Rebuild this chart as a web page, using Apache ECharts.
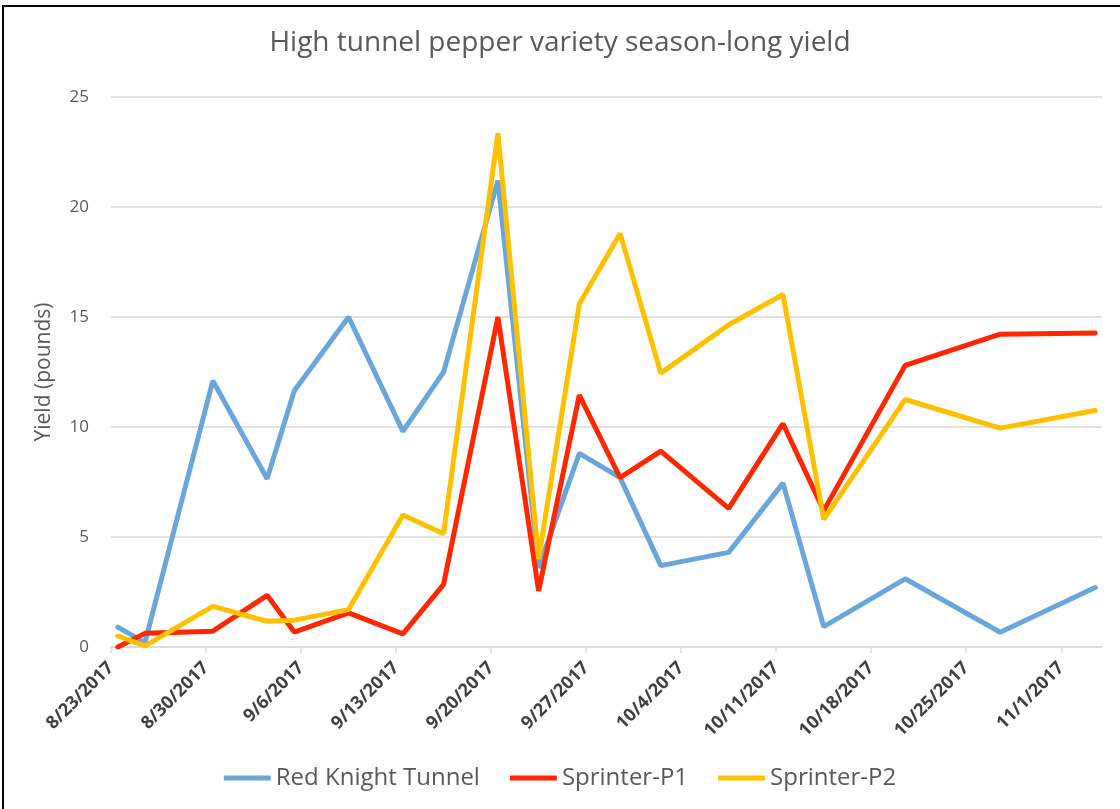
<!DOCTYPE html>
<html>
<head>
<meta charset="utf-8">
<title>High tunnel pepper variety season-long yield</title>
<script src="https://cdn.jsdelivr.net/npm/echarts@6/dist/echarts.min.js"></script>
<style>
  html, body { margin: 0; padding: 0; background: #fff; }
  #chart { width: 1120px; height: 809px; }
</style>
</head>
<body>
<div id="chart"></div>
<script>
// harvest dates
var dates = [
  '2017-08-23', '2017-08-25', '2017-08-30', '2017-09-03', '2017-09-05',
  '2017-09-09', '2017-09-13', '2017-09-16', '2017-09-20', '2017-09-23',
  '2017-09-26', '2017-09-29', '2017-10-02', '2017-10-07', '2017-10-11',
  '2017-10-14', '2017-10-20', '2017-10-27', '2017-11-03'
];
// yield in pounds
var redKnight = [0.9, 0.2, 12.1, 7.65, 11.65, 15.0, 9.8, 12.5, 21.2, 3.6, 8.8, 7.7, 3.7, 4.3, 7.45, 0.93, 3.1, 0.67, 2.7];
var sprinterP1 = [0.0, 0.62, 0.72, 2.35, 0.68, 1.55, 0.6, 2.85, 15.0, 2.55, 11.45, 7.7, 8.9, 6.3, 10.15, 6.2, 12.8, 14.22, 14.27];
var sprinterP2 = [0.5, 0.05, 1.85, 1.17, 1.22, 1.7, 6.0, 5.15, 23.35, 4.0, 15.6, 18.8, 12.45, 14.65, 16.02, 5.8, 11.25, 9.95, 10.75];
// x axis tick labels
var tickLabels = [
  '8/23/2017', '8/30/2017', '9/6/2017', '9/13/2017', '9/20/2017', '9/27/2017',
  '10/4/2017', '10/11/2017', '10/18/2017', '10/25/2017', '11/1/2017'
];
var yTicks = [0, 5, 10, 15, 20, 25];

var DAY = 86400000;
var startMs = Date.UTC(2017, 7, 23);

// day number since first tick, points sit in the middle of their day
function dayOf(iso) {
  return (Date.parse(iso) - startMs) / DAY + 0.5;
}
function tickDay(label) {
  var p = label.split('/');
  return (Date.UTC(+p[2], +p[0] - 1, +p[1]) - startMs) / DAY;
}
function pairs(values) {
  return values.map(function (v, i) {
    return [dayOf(dates[i]), v];
  });
}

var tickDays = tickLabels.map(tickDay);
var labelByDay = {};
tickDays.forEach(function (d, i) { labelByDay[d] = tickLabels[i]; });

var grey = '#595959';
var chart = echarts.init(document.getElementById('chart'));

chart.setOption({
  backgroundColor: '#ffffff',
  animation: false,
  title: {
    text: 'High tunnel pepper variety season-long yield',
    left: 'center',
    top: 24,
    textStyle: {
      fontFamily: 'Open Sans',
      fontSize: 28,
      fontWeight: 'normal',
      color: grey
    }
  },
  legend: {
    left: 'center',
    top: 761,
    icon: 'rect',
    itemWidth: 47,
    itemHeight: 5,
    itemGap: 30,
    textStyle: {
      fontFamily: 'Open Sans',
      fontSize: 24,
      color: grey
    }
  },
  grid: {
    left: 111,
    right: 18,
    top: 97,
    bottom: 162,
    containLabel: false,
    outerBoundsMode: 'none'
  },
  xAxis: {
    type: 'value',
    min: 0,
    max: 73,
    interval: 7,
    splitLine: { show: false },
    axisLine: {
      show: true,
      lineStyle: { color: '#D9D9D9', width: 1.5 }
    },
    axisTick: {
      show: true,
      length: 6,
      customValues: tickDays,
      lineStyle: { color: '#D9D9D9', width: 1.5 }
    },
    axisLabel: {
      customValues: tickDays,
      rotate: 45,
      margin: 18,
      fontFamily: 'Open Sans',
      fontWeight: 'bold',
      fontSize: 18,
      color: '#404040',
      formatter: function (v) {
        return labelByDay[v] || '';
      }
    }
  },
  yAxis: {
    type: 'value',
    min: 0,
    max: 25,
    interval: 5,
    name: 'Yield (pounds)',
    nameLocation: 'middle',
    nameRotate: 90,
    nameGap: 56,
    nameTextStyle: {
      fontFamily: 'Open Sans',
      fontSize: 21,
      color: grey
    },
    axisLine: { show: false },
    axisTick: { show: false },
    axisLabel: {
      margin: 22,
      fontFamily: 'Open Sans',
      fontSize: 17,
      color: grey,
      formatter: function (v) {
        return yTicks.indexOf(v) >= 0 ? String(v) : '';
      }
    },
    splitLine: {
      lineStyle: { color: '#D9D9D9', width: 1.5 }
    }
  },
  graphic: [
    {
      type: 'rect',
      silent: true,
      shape: { x: 3, y: 6, width: 1200, height: 900 },
      style: { fill: 'none', stroke: '#000000', lineWidth: 2 }
    }
  ],
  series: [
    {
      name: 'Red Knight Tunnel',
      type: 'line',
      data: pairs(redKnight),
      showSymbol: false,
      color: '#6AA6DA',
      lineStyle: { width: 5, cap: 'round' }
    },
    {
      name: 'Sprinter-P1',
      type: 'line',
      data: pairs(sprinterP1),
      showSymbol: false,
      color: '#FF2600',
      lineStyle: { width: 5, cap: 'round' }
    },
    {
      name: 'Sprinter-P2',
      type: 'line',
      data: pairs(sprinterP2),
      showSymbol: false,
      color: '#FFC000',
      lineStyle: { width: 5, cap: 'round' }
    }
  ]
});
</script>
</body>
</html>
